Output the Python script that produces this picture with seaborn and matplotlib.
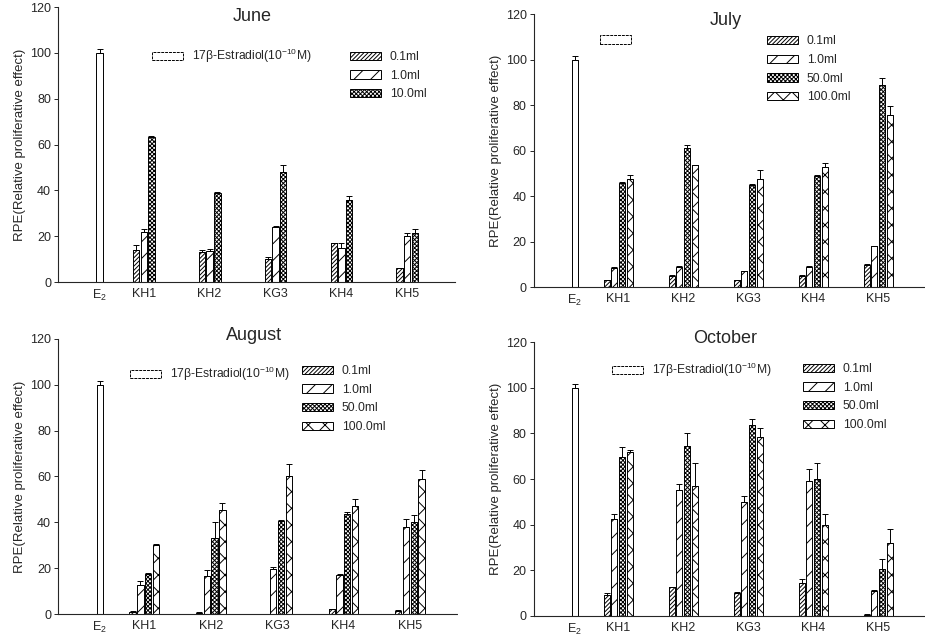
import numpy as np
import pandas as pd
import matplotlib
matplotlib.use("Agg")
import matplotlib.pyplot as plt
import seaborn as sns
from matplotlib.patches import Patch

# ---------------- data ----------------
groups = ["KH1", "KH2", "KG3", "KH4", "KH5"]
e2_label = "E$_2$"
e2_legend = "17β-Estradiol(10$^{-10}$M)"
ylabel = "RPE(Relative proliferative effect)"
yticks = [0, 20, 40, 60, 80, 100, 120]

e2_value = 100
e2_err = 1.5

june_doses = ["0.1ml", "1.0ml", "10.0ml"]
june_01 = [14, 13, 10, 17, 6]
june_01_err = [2, 1, 1, 0.3, 0.3]
june_10 = [22, 13.5, 24, 15, 20]
june_10_err = [1, 1, 0.3, 2, 1.5]
june_100 = [63.5, 39, 48, 36, 21.5]
june_100_err = [0.3, 0.3, 3, 1.5, 1.5]

doses4 = ["0.1ml", "1.0ml", "50.0ml", "100.0ml"]

july_01 = [3, 5, 3, 5, 10]
july_01_err = [0.3, 0.3, 0.3, 0.3, 0.3]
july_10 = [8.5, 9, 7, 9, 18]
july_10_err = [0.3, 0.3, 0.3, 0.3, 0.3]
july_500 = [46, 61, 45, 49, 89]
july_500_err = [0.3, 1.5, 0.5, 0.5, 3]
july_1000 = [47.5, 53.5, 47.5, 53, 75.5]
july_1000_err = [2, 0.3, 4, 1.5, 4]

aug_01 = [1, 0.5, 0, 2, 1.5]
aug_01_err = [0.2, 0.2, 0.2, 0.2, 0.2]
aug_10 = [12.5, 16.5, 19.5, 17, 38]
aug_10_err = [2, 2.5, 1, 0.3, 3.5]
aug_500 = [17.5, 33, 40.5, 43.5, 40]
aug_500_err = [0.5, 7, 0.5, 1, 3]
aug_1000 = [30, 45.5, 60, 47, 59]
aug_1000_err = [0.5, 3, 5.5, 3, 4]

oct_01 = [9, 12.5, 10, 14.5, 0.5]
oct_01_err = [1, 0.3, 0.3, 1.5, 0.2]
oct_10 = [42.5, 55, 50, 59, 11]
oct_10_err = [2, 3, 2.5, 5.5, 0.3]
oct_500 = [69.5, 74.5, 83.5, 60, 20.5]
oct_500_err = [4.5, 5.5, 3, 7, 4.5]
oct_1000 = [72, 57, 78.5, 40, 32]
oct_1000_err = [0.5, 10, 4, 4.5, 6]

# ---------------- style ----------------
sns.set_theme(style="ticks")
plt.rcParams['font.family'] = ['Liberation Sans', 'DejaVu Sans']
plt.rcParams['mathtext.fontset'] = 'custom'
plt.rcParams['mathtext.rm'] = 'Liberation Sans'
plt.rcParams['hatch.linewidth'] = 0.7

HATCH3 = ["////////", "//", "xxxxxxxx"]
HATCH4 = ["////////", "//", "xxxxxxxx", "xx"]
E2_POS = 0.33
PITCH = 0.118
WIDTH = 0.095
LW = 0.7

fig = plt.figure(figsize=(9.25, 6.37), dpi=100)


def draw(rect, title, title_y, doses, series, errs, hatches, e2_leg, e2_text, dose_leg):
    ax = fig.add_axes(rect)
    n = len(series)
    centers = np.arange(1, len(groups) + 1)
    # E2 bar
    sns.barplot(x=[E2_POS], y=[e2_value], native_scale=True, width=WIDTH,
                color="white", edgecolor="black", linewidth=LW, saturation=1,
                errorbar=None, ax=ax)
    ax.errorbar([E2_POS], [e2_value], yerr=[[0], [e2_err]], fmt="none",
                ecolor="black", elinewidth=LW, capsize=2.5, capthick=LW)
    for j, (vals, er, h) in enumerate(zip(series, errs, hatches)):
        pos = centers + (j - (n - 1) / 2) * PITCH
        sns.barplot(x=pos, y=vals, native_scale=True, width=WIDTH,
                    color="white", edgecolor="black", linewidth=LW,
                    saturation=1, hatch=h, errorbar=None, ax=ax)
        ax.errorbar(pos, vals, yerr=[np.zeros(len(er)), er], fmt="none",
                    ecolor="black", elinewidth=LW, capsize=2.5, capthick=LW)
    ax.set_xlim(-0.3, 5.72)
    ax.set_ylim(0, 120)
    ax.set_yticks(yticks)
    ax.set_yticklabels([str(t) for t in yticks], fontsize=9)
    ax.set_xticks([E2_POS] + list(centers))
    ax.set_xticklabels([e2_label] + groups, fontsize=9)
    ax.tick_params(axis="x", length=0, pad=4)
    ax.tick_params(axis="y", length=3, width=0.7, pad=2)
    ax.set_xlabel("")
    ax.set_ylabel(ylabel, fontsize=9.5, labelpad=3)
    sns.despine(ax=ax)
    for s in ("left", "bottom"):
        ax.spines[s].set_linewidth(0.8)
        ax.spines[s].set_linestyle((0, (4, 1)))
    ax.text(0.49, title_y, title, transform=ax.transAxes, ha="center",
            va="center", fontsize=13)
    # legends
    h_e2 = [Patch(facecolor="white", edgecolor="black", linewidth=LW, linestyle=(0, (3, 1)))]
    leg1 = ax.legend(h_e2, [e2_text], loc="upper left", bbox_to_anchor=e2_leg,
                     frameon=False, fontsize=8.7, handlelength=2.6,
                     handleheight=0.7, handletextpad=0.7, borderpad=0,
                     borderaxespad=0)
    ax.add_artist(leg1)
    h_d = [Patch(facecolor="white", edgecolor="black", linewidth=LW, hatch=h)
           for h in hatches]
    ax.legend(h_d, doses, loc="upper left", bbox_to_anchor=dose_leg,
              frameon=False, fontsize=8.7, handlelength=2.6, handleheight=0.7,
              handletextpad=0.7, labelspacing=0.55, borderpad=0,
              borderaxespad=0)
    return ax


draw([0.0627, 0.557, 0.429, 0.432], "June", 0.965, june_doses,
     [june_01, june_10, june_100], [june_01_err, june_10_err, june_100_err],
     HATCH3, (0.237, 0.855), e2_legend, (0.736, 0.84))

draw([0.577, 0.549, 0.423, 0.429], "July", 0.975, doses4,
     [july_01, july_10, july_500, july_1000],
     [july_01_err, july_10_err, july_500_err, july_1000_err],
     HATCH4, (0.169, 0.925), "", (0.596, 0.922))

draw([0.0627, 0.036, 0.432, 0.432], "August", 1.014, doses4,
     [aug_01, aug_10, aug_500, aug_1000],
     [aug_01_err, aug_10_err, aug_500_err, aug_1000_err],
     HATCH4, (0.18, 0.905), e2_legend, (0.61, 0.905))

draw([0.577, 0.033, 0.423, 0.43], "October", 1.014, doses4,
     [oct_01, oct_10, oct_500, oct_1000],
     [oct_01_err, oct_10_err, oct_500_err, oct_1000_err],
     HATCH4, (0.2, 0.93), e2_legend, (0.688, 0.923))

fig.savefig("out.png", dpi=100)
